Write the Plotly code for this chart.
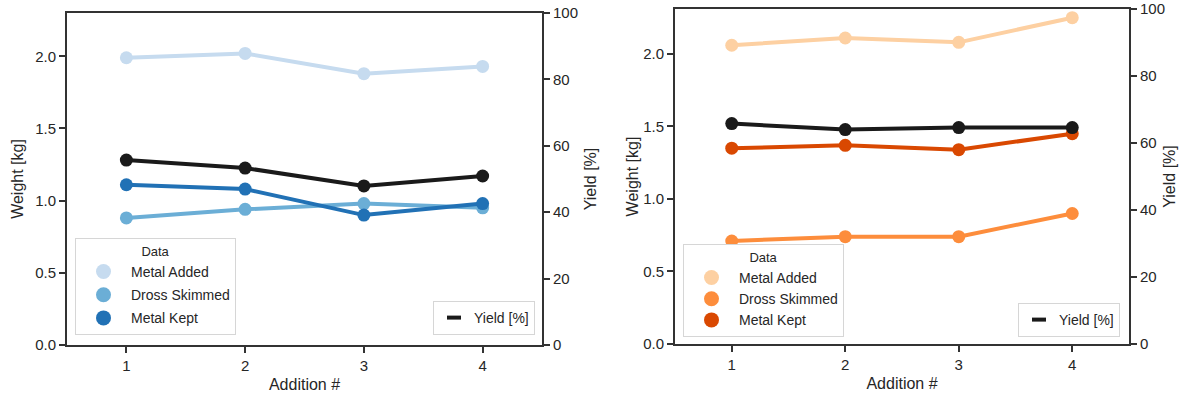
import plotly.graph_objects as go

additions = [1, 2, 3, 4]
series_names = ["Metal Added", "Dross Skimmed", "Metal Kept"]

# Left panel (blues)
left_metal_added = [1.99, 2.02, 1.88, 1.93]
left_dross_skimmed = [0.88, 0.94, 0.98, 0.95]
left_metal_kept = [1.11, 1.08, 0.90, 0.98]
left_yield = [55.7, 53.3, 47.9, 50.9]

# Right panel (oranges)
right_metal_added = [2.06, 2.11, 2.08, 2.25]
right_dross_skimmed = [0.71, 0.74, 0.74, 0.90]
right_metal_kept = [1.35, 1.37, 1.34, 1.45]
right_yield = [65.8, 64.0, 64.6, 64.6]

blues = ["#c6dbef", "#6baed6", "#2171b5"]
oranges = ["#fdd0a2", "#fd8d3c", "#d94801"]
yield_color = "#1a1a1a"

weight_ticks = [0.0, 0.5, 1.0, 1.5, 2.0]
yield_ticks = [0, 20, 40, 60, 80, 100]

FONT = "Liberation Sans, Arial, sans-serif"
TXT = "#262626"
AX = "#333333"

fig = go.Figure()

def add_panel(xa, ya_w, ya_y, data, colors, yld, legend_data, legend_yield, tag):
    for name, vals, c in zip(series_names, data, colors):
        fig.add_trace(go.Scatter(
            x=additions, y=vals, mode="lines+markers", name=name,
            line=dict(color=c, width=4), marker=dict(color=c, size=13),
            xaxis=xa, yaxis=ya_w, showlegend=False))
    for name, c in zip(series_names, colors):
        fig.add_trace(go.Scatter(
            x=[None], y=[None], mode="markers", name=name,
            marker=dict(color=c, size=15), xaxis=xa, yaxis=ya_w,
            legend=legend_data, legendgroup=tag + name, showlegend=True))
    fig.add_trace(go.Scatter(
        x=additions, y=yld, mode="lines+markers", name="Yield [%]",
        line=dict(color=yield_color, width=4), marker=dict(color=yield_color, size=13),
        xaxis=xa, yaxis=ya_y, showlegend=False))
    fig.add_trace(go.Scatter(
        x=[None], y=[None], mode="markers", name="Yield [%]",
        marker=dict(symbol="line-ew-open", size=10, color=yield_color,
                    line=dict(color=yield_color, width=4)),
        xaxis=xa, yaxis=ya_y, legend=legend_yield, showlegend=True))

add_panel("x", "y", "y2", [left_metal_added, left_dross_skimmed, left_metal_kept],
          blues, left_yield, "legend", "legend2", "L")
add_panel("x2", "y3", "y4", [right_metal_added, right_dross_skimmed, right_metal_kept],
          oranges, right_yield, "legend3", "legend4", "R")

tickfont = dict(family=FONT, size=15, color=TXT)
titlefont = dict(family=FONT, size=16, color=TXT)

def xaxis(domain, anchor):
    return dict(domain=domain, anchor=anchor, range=[0.5, 4.5], tickvals=additions,
                showline=True, linecolor=AX, linewidth=2, mirror=True,
                ticks="outside", ticklen=6, tickwidth=1.5, tickcolor=AX,
                showgrid=False, zeroline=False, tickfont=tickfont, automargin=False,
                ticklabeloverflow="allow",
                title=dict(text="Addition #", font=titlefont, standoff=6))

def wyaxis(domain, anchor, top, standoff):
    return dict(domain=domain, anchor=anchor, range=[0, top], tickvals=weight_ticks,
                tickformat=".1f", showline=True, linecolor=AX, linewidth=2,
                ticks="outside", ticklen=6, tickwidth=1.5, tickcolor=AX,
                showgrid=False, zeroline=False, tickfont=tickfont, automargin=False,
                ticklabeloverflow="allow",
                title=dict(text="Weight [kg]", font=titlefont, standoff=standoff))

def yyaxis(overlay, anchor, standoff):
    return dict(overlaying=overlay, anchor=anchor, side="right", range=[0, 100],
                tickvals=yield_ticks, showline=True, linecolor=AX, linewidth=2,
                ticks="outside", ticklen=6, tickwidth=1.5, tickcolor=AX,
                showgrid=False, zeroline=False, tickfont=tickfont, automargin=False,
                ticklabeloverflow="allow",
                title=dict(text="Yield [%]", font=titlefont, standoff=standoff))

leg_common = dict(bgcolor="white", bordercolor="#d6d6d6", borderwidth=1,
                  font=dict(family=FONT, size=14, color=TXT))

def data_legend(x, y, gap):
    d = dict(leg_common)
    d.update(x=x, y=y, xanchor="left", yanchor="bottom", tracegroupgap=gap,
             itemwidth=45,
             title=dict(text="Data", side="top center", font=dict(family=FONT, size=13, color=TXT)))
    return d

def yield_legend(x, y):
    d = dict(leg_common)
    d.update(x=x, y=y, xanchor="right", yanchor="bottom")
    return d

fig.update_layout(
    width=1189, height=397,
    margin=dict(l=0, r=0, t=0, b=0),
    paper_bgcolor="white", plot_bgcolor="white",
    font=dict(family=FONT, color=TXT),
    xaxis=xaxis([67/1189, 542/1189], "y"),
    yaxis=wyaxis([52/397, 384/397], "x", 2.30, 8),
    yaxis2=yyaxis("y", "x", 8),
    xaxis2=xaxis([675/1189, 1129/1189], "y3"),
    yaxis3=wyaxis([53/397, 388/397], "x2", 2.31, 1),
    yaxis4=yyaxis("y3", "x2", 0),
    legend=data_legend(75/1189, 62/397, 2),
    legend2=yield_legend(535/1189, 62/397),
    legend3=data_legend(683/1189, 60/397, 0),
    legend4=yield_legend(1120/1189, 60/397),
)

fig.write_html("out.html")
